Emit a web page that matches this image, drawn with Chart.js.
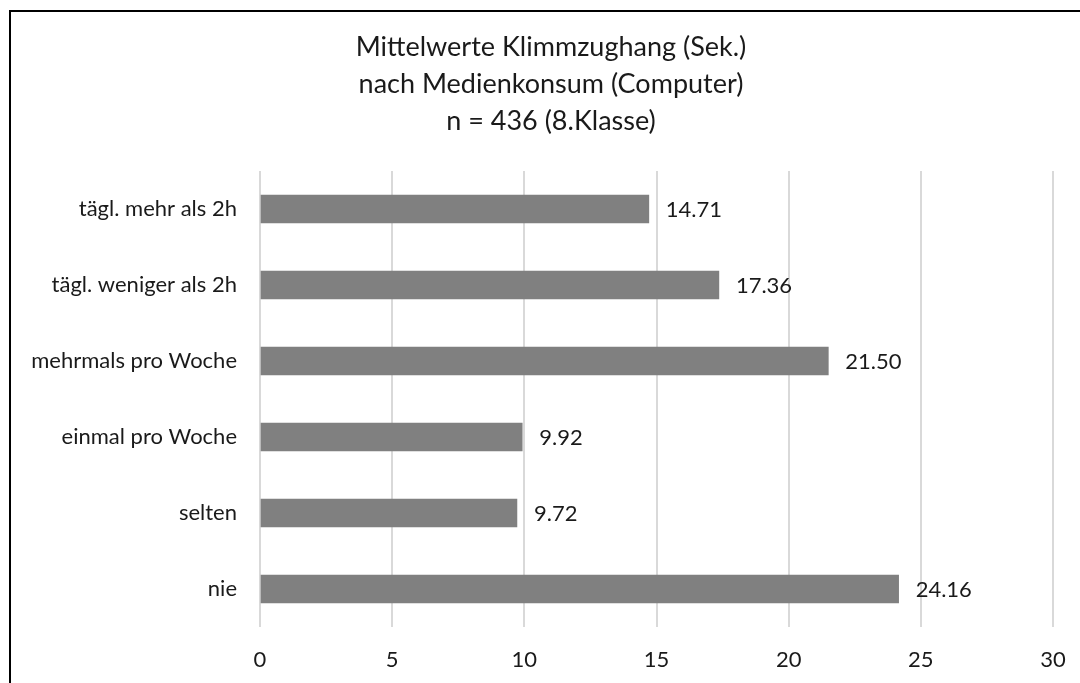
<!DOCTYPE html>
<html>
<head>
<meta charset="utf-8">
<script src="https://cdn.jsdelivr.net/npm/chart.js@4/dist/chart.umd.min.js"></script>
<style>
  html, body { margin: 0; padding: 0; background: #fff; }
  #wrap { position: relative; width: 1080px; height: 683px; overflow: hidden; }
  #frame { position: absolute; left: 9px; top: 10px; width: 1200px; height: 800px;
           border-left: 2px solid #000; border-top: 2px solid #000; pointer-events: none; }
  canvas { position: absolute; left: 0; top: 0; }
</style>
</head>
<body>
<div id="wrap">
  <canvas id="c" width="1151" height="683"></canvas>
  <div id="frame"></div>
</div>
<script>
const categories = [
  'tägl. mehr als 2h',
  'tägl. weniger als 2h',
  'mehrmals pro Woche',
  'einmal pro Woche',
  'selten',
  'nie'
];
const meanSeconds = [14.71, 17.36, 21.50, 9.92, 9.72, 24.16];
const titleLines = [
  'Mittelwerte Klimmzughang (Sek.)',
  'nach Medienkonsum (Computer)',
  'n = 436 (8.Klasse)'
];
const xMin = 0, xMax = 30, xStep = 5;

const FONT = 'Lato, "Open Sans", sans-serif';
const TEXT = '#1a1a1a';

// Centre the title over the whole framed chart rather than the canvas box
const titleOffset = {
  id: 'titleOffset',
  afterLayout(chart) {
    if (chart.titleBlock) chart.titleBlock.left += 49;
  }
};

// Writes each bar's value just past its end
const valueLabels = {
  id: 'valueLabels',
  afterDatasetsDraw(chart) {
    const { ctx } = chart;
    const meta = chart.getDatasetMeta(0);
    ctx.save();
    ctx.font = '22px ' + FONT;
    ctx.fillStyle = TEXT;
    ctx.textAlign = 'left';
    ctx.textBaseline = 'middle';
    meta.data.forEach((bar, i) => {
      const v = chart.data.datasets[0].data[i];
      ctx.fillText(v.toFixed(2), bar.x + 17, bar.y + 1);
    });
    ctx.restore();
  }
};

new Chart(document.getElementById('c'), {
  type: 'bar',
  data: {
    labels: categories,
    datasets: [{
      data: meanSeconds,
      backgroundColor: '#808080',
      borderWidth: 0,
      barThickness: 28
    }]
  },
  options: {
    indexAxis: 'y',
    responsive: false,
    animation: false,
    layout: { padding: { left: 0, right: 98, top: 0, bottom: 0 } },
    plugins: {
      legend: { display: false },
      tooltip: { enabled: false },
      title: {
        display: true,
        text: titleLines,
        color: TEXT,
        font: { family: FONT, size: 27, weight: 'normal', lineHeight: 1.37 },
        padding: { top: 29, bottom: 31 }
      }
    },
    scales: {
      x: {
        type: 'linear',
        min: xMin,
        max: xMax,
        ticks: { stepSize: xStep, color: TEXT, font: { family: FONT, size: 22 }, padding: 20 },
        grid: { color: '#d9d9d9', lineWidth: 2, drawTicks: false },
        border: { display: false },
        afterFit(scale) { scale.height = 56; }
      },
      y: {
        ticks: { color: TEXT, font: { family: FONT, size: 22 }, padding: 23 },
        grid: { display: false, drawTicks: false },
        border: { display: false },
        afterFit(scale) { scale.width = 260; }
      }
    }
  },
  plugins: [titleOffset, valueLabels]
});
</script>
</body>
</html>
